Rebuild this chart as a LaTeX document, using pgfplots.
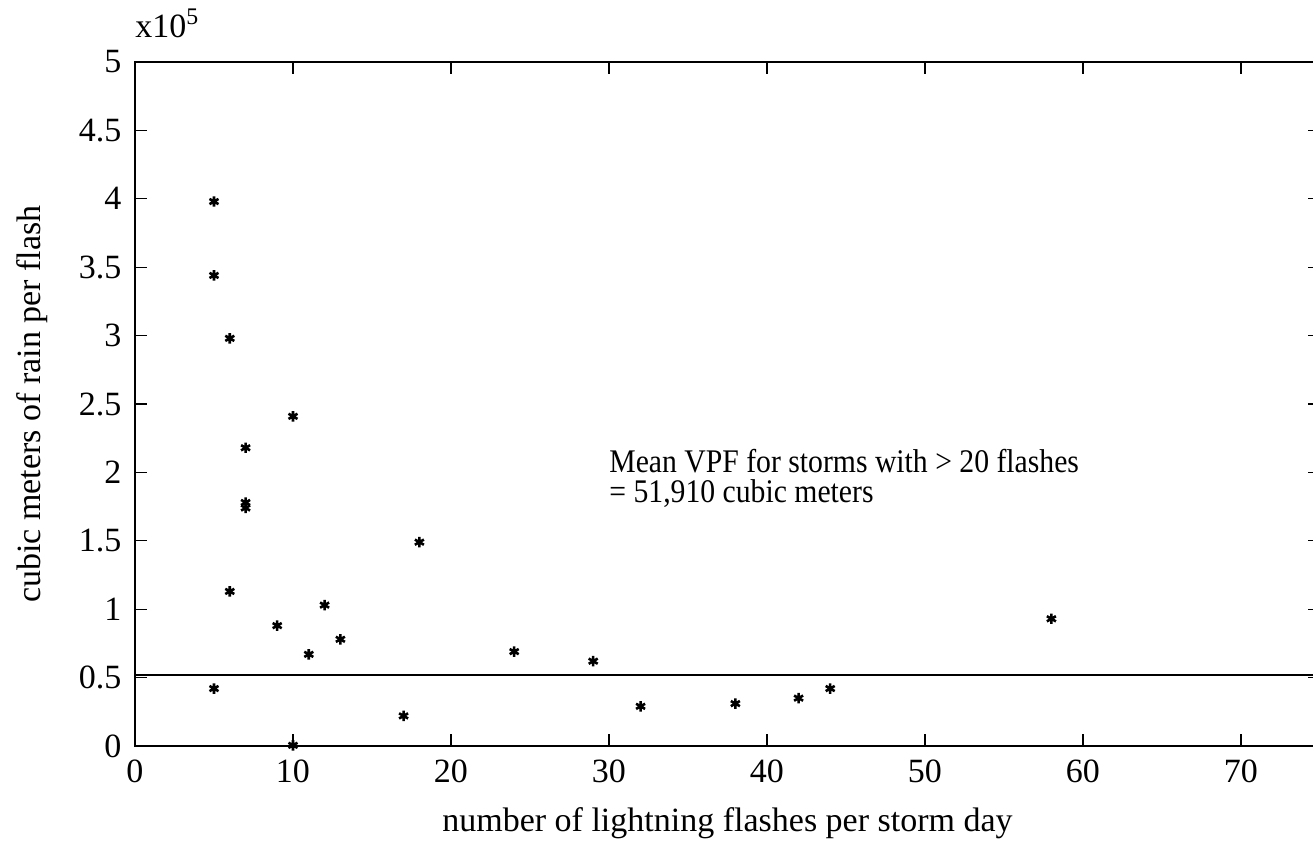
\documentclass[border=0pt]{standalone}
\usepackage{fontspec}
\setmainfont{Liberation Serif}
\newfontfamily\narrowfont[FakeStretch=0.9]{Liberation Serif}
\usepackage{pgfplots}
\pgfplotsset{compat=1.18}
\begin{document}
\fontsize{17}{19}\selectfont
\begin{tikzpicture}
\begin{axis}[
  scale only axis,
  width=592.5pt, height=342pt,
  xmin=0, xmax=75, ymin=0, ymax=5,
  xtick={0,10,...,70},
  ytick={0,0.5,...,5},
  yticklabels={0,0.5,1,1.5,2,2.5,3,3.5,4,4.5,5},
  tick align=inside,
  major tick length=6pt,
  tick style={black, line width=0.6pt},
  axis line style={line width=0.8pt},
  /pgf/number format/assume math mode=true,
  tick label style={font=\fontsize{17}{19}\selectfont},
  xticklabel style={yshift=-1pt},
  yticklabel style={xshift=-1pt},
  xlabel={number of lightning flashes per storm day},
  ylabel={cubic meters of rain per flash},
  label style={font=\fontsize{17}{19}\selectfont},
  xlabel style={at={(axis description cs:0.5,0)}, anchor=north, yshift=-25pt},
  ylabel style={at={(axis description cs:0,0.5)}, anchor=south, yshift=38pt},
  clip=false,
]
\addplot[only marks, mark=asterisk, mark size=2.6pt, line width=1.3pt, black] coordinates {
(5,3.98) (5,3.44) (6,2.98) (10,2.41) (7,2.18) (7,1.78) (7,1.74) (18,1.49)
(6,1.13) (12,1.03) (9,0.88) (13,0.78) (11,0.67) (24,0.69) (5,0.42) (17,0.22)
(10,0.005) (29,0.62) (32,0.29) (38,0.31) (42,0.35) (44,0.42) (58,0.93)
};
\addplot[black, line width=0.9pt, no marks] coordinates {(0,0.5191) (75,0.5191)};
\node[anchor=south west, inner sep=0pt, font=\fontsize{17}{19}\selectfont] at (axis description cs:0,1) [yshift=12pt] {x10\textsuperscript{5}};
\node[anchor=north west, inner sep=0pt, align=left, font=\narrowfont\fontsize{16.5}{15}\selectfont] at (axis cs:30.0,2.175) {Mean VPF for storms with > 20 flashes\\= 51,910 cubic meters};
\end{axis}
\pgfresetboundingbox
\path[use as bounding box] ([xshift=-67.5pt,yshift=-53.5pt]current axis.south west) rectangle ([xshift=589pt,yshift=373pt]current axis.south west);
\end{tikzpicture}
\end{document}
